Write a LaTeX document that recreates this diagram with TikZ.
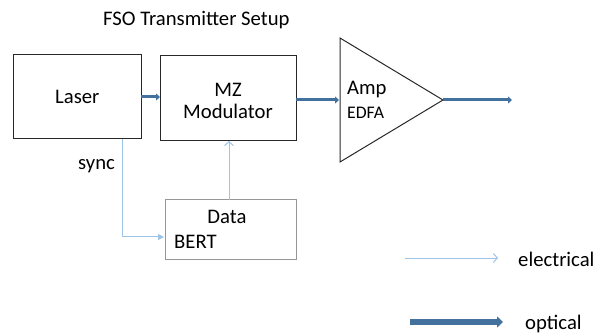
\documentclass[tikz,border=0pt]{standalone}
\usepackage{fontspec}
\setmainfont{Carlito}
\usetikzlibrary{arrows.meta}
\definecolor{opt}{RGB}{65,113,156}
\definecolor{ele}{RGB}{157,195,230}
\definecolor{boxline}{RGB}{40,40,40}
\definecolor{bertline}{RGB}{150,150,150}
\begin{document}
\begin{tikzpicture}[x=1pt,y=-1pt,
  txt/.style={font=\fontsize{20.7}{22}\selectfont, inner sep=0pt, anchor=base west},
  blk/.style={draw=boxline, line width=1pt},
  optarrow/.style={draw=opt, line width=3pt, -{Triangle[length=4pt,width=7pt]}},
  elearrow/.style={draw=ele, line width=1pt, -{Triangle[length=6pt,width=6pt]}},
  eleopen/.style={draw=ele, line width=1pt, -{Straight Barb[length=4pt,width=9pt]}}]
\useasboundingbox (0,0) rectangle (595,334);
% boxes
\draw[blk] (13,55) rectangle (141,139);
\coordinate (laserE) at (141,97);
\coordinate (laserS) at (122,139);
\draw[blk] (160,56) rectangle (296,141);
\coordinate (mzW) at (160,97);
\coordinate (mzE) at (296,100);
\coordinate (mzS) at (229,141);
\draw[draw=bertline, line width=1pt] (165,200) rectangle (296,259);
\coordinate (bertN) at (229,200);
\coordinate (bertW) at (164,237);
\draw[blk, line join=miter] (340,38) -- (443,100) -- (340,162) -- cycle;
\coordinate (ampW) at (339,100);
\coordinate (ampE) at (443,100);
\coordinate (outE) at (512,100);
% texts
\node[txt] (title) at (103,26) {FSO Transmitter Setup};
\node[txt] (laser) at (55,104) {Laser};
\node[txt, anchor=base] (mz) at (228,97) {MZ};
\node[txt, anchor=base] (mod) at (228,119) {Modulator};
\node[txt, anchor=base] (data) at (227,223) {Data};
\node[txt] (bert) at (174,248) {BERT};
\node[txt] (sync) at (78,170) {sync};
\node[txt] (amp) at (347,95) {Amp};
\node[txt, font=\fontsize{17.7}{20}\selectfont] (edfa) at (347,119) {EDFA};
\node[txt] (elec) at (518,266) {electrical};
\node[txt] (optl) at (525,329) {optical};
% connectors
\draw[optarrow] (laserE) -- (mzW);
\draw[optarrow] (mzE) -- (ampW);
\draw[optarrow] (ampE) -- (outE);
\draw[eleopen] (bertN) -- (mzS);
\draw[elearrow] (laserS) |- (bertW);
% legend
\coordinate (le1) at (405,258);
\coordinate (le2) at (498,258);
\draw[eleopen] (le1) -- (le2);
\coordinate (lo1) at (410,322);
\coordinate (lo2) at (503,322);
\draw[draw=opt, line width=6pt, -{Triangle[length=6pt,width=11pt]}] (lo1) -- (lo2);
\end{tikzpicture}
\end{document}
